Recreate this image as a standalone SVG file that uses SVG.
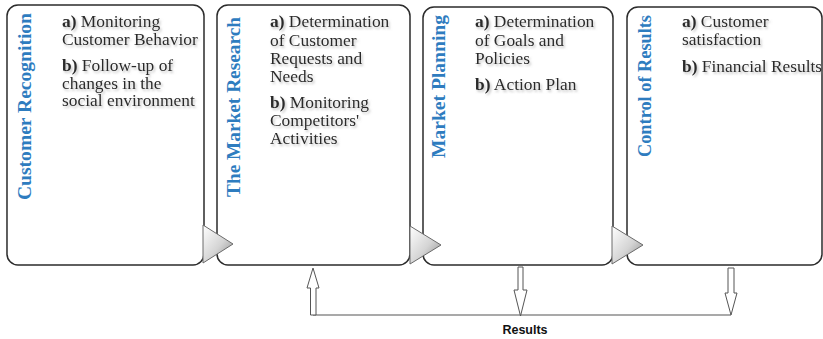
<svg xmlns="http://www.w3.org/2000/svg" width="823" height="339" viewBox="0 0 823 339">
<defs>
<linearGradient id="tri" x1="0" y1="0" x2="1" y2="1">
<stop offset="0" stop-color="#ffffff"/>
<stop offset="0.55" stop-color="#d4d4d4"/>
<stop offset="1" stop-color="#8a8a8a"/>
</linearGradient>
<filter id="sh" x="-10%" y="-30%" width="130%" height="180%">
<feDropShadow dx="1.5" dy="2" stdDeviation="1.2" flood-color="#888" flood-opacity="0.5"/>
</filter>
</defs>
<style>
.box{fill:#fff;stroke:#2b2b2b;stroke-width:1.5}
.title{font-family:"Liberation Serif","Times New Roman",serif;font-weight:bold;font-size:19px;fill:#2e7cbf}
.txt{font-family:"Liberation Serif","Times New Roman",serif;font-size:17.4px;fill:#2a2a2a}
.b{font-weight:bold}
.tri{fill:url(#tri);stroke:#6a6a6a;stroke-width:1}
.arr{fill:#fff;stroke:#555;stroke-width:1}
.ln{fill:none;stroke:#555;stroke-width:1.2}
.res{font-family:"Liberation Sans",Arial,sans-serif;font-weight:bold;font-size:12.5px;fill:#111}
</style>
<rect width="823" height="339" fill="#fff"/>

<g id="node1">
<rect class="box" x="7" y="5" width="197" height="260" rx="11"/>
<text class="title" transform="translate(31,200) rotate(-90)" textLength="187" lengthAdjust="spacingAndGlyphs">Customer Recognition</text>
<g filter="url(#sh)">
<text class="txt" x="62" y="27"><tspan class="b">a)</tspan> Monitoring</text>
<text class="txt" x="62" y="44.5">Customer Behavior</text>
<text class="txt" x="62" y="71"><tspan class="b">b)</tspan> Follow-up of</text>
<text class="txt" x="62" y="88.5">changes in the</text>
<text class="txt" x="62" y="106">social environment</text>
</g>
</g>

<g id="node2">
<rect class="box" x="217" y="5" width="193" height="260" rx="11"/>
<text class="title" transform="translate(240,197) rotate(-90)" textLength="180" lengthAdjust="spacingAndGlyphs">The Market Research</text>
<g filter="url(#sh)">
<text class="txt" x="270" y="27"><tspan class="b">a)</tspan>  Determination</text>
<text class="txt" x="270" y="45.5">of Customer</text>
<text class="txt" x="270" y="64">Requests and</text>
<text class="txt" x="270" y="82">Needs</text>
<text class="txt" x="270" y="107.5"><tspan class="b">b)</tspan>  Monitoring</text>
<text class="txt" x="270" y="125.5">Competitors'</text>
<text class="txt" x="270" y="143.5">Activities</text>
</g>
</g>

<g id="node3">
<rect class="box" x="423" y="7" width="190" height="258" rx="11"/>
<text class="title" transform="translate(445,158) rotate(-90)" textLength="143" lengthAdjust="spacingAndGlyphs">Market Planning</text>
<g filter="url(#sh)">
<text class="txt" x="475" y="27"><tspan class="b">a)</tspan> Determination</text>
<text class="txt" x="475" y="45.5">of Goals and</text>
<text class="txt" x="475" y="63.5">Policies</text>
<text class="txt" x="475" y="90"><tspan class="b">b)</tspan> Action Plan</text>
</g>
</g>

<g id="node4">
<rect class="box" x="627" y="7" width="195" height="258" rx="11"/>
<text class="title" transform="translate(651,157) rotate(-90)" textLength="142" lengthAdjust="spacingAndGlyphs">Control of Results</text>
<g filter="url(#sh)">
<text class="txt" x="682" y="27"><tspan class="b">a)</tspan> Customer</text>
<text class="txt" x="682" y="45">satisfaction</text>
<text class="txt" x="682" y="72"><tspan class="b">b)</tspan> Financial Results</text>
</g>
</g>

<g id="connectors">
<polygon class="tri" points="203,225 233,244 203,263"/>
<polygon class="tri" points="410,226 441,245 410,264"/>
<polygon class="tri" points="612,226 643,245 612,264"/>
<polyline class="ln" points="313,315 731,315"/>
<polygon class="arr" points="313,268 319,288 316,288 316,315 310.5,315 310.5,288 307,288"/>
<polygon class="arr" points="518,267 523,267 523,290 527,290 520.5,316 514,290 518,290"/>
<polygon class="arr" points="728,268 734,268 734,293 737,293 731,315 725,293 728,293"/>
<text class="res" x="525" y="334" text-anchor="middle">Results</text>
</g>
</svg>
